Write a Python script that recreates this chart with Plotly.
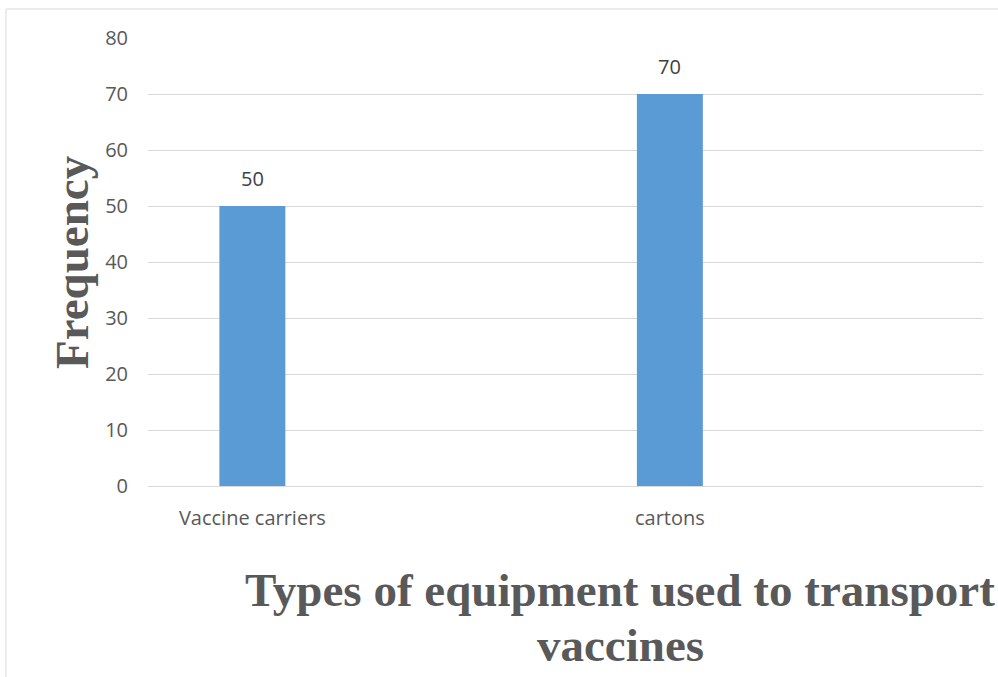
import plotly.graph_objects as go

# ---- data ----
categories = ["Vaccine carriers", "cartons"]
values = [50, 70]
slots = [0, 2]            # category slot positions on a 4-slot axis
y_ticks = [0, 10, 20, 30, 40, 50, 60, 70, 80]
y_title = "Frequency"
x_title_lines = ["Types of equipment used to transport", "vaccines"]

W, H = 998, 677
L, R, T, B = 148, 15, 38, 191
pw, ph = W - L - R, H - T - B

def px_x(px):
    return (px - L) / pw

def px_y(py):
    return (H - B - py) / ph

txt = "#595959"
fig = go.Figure()
fig.add_trace(go.Bar(
    x=slots, y=values, width=0.316,
    marker=dict(color="#5B9BD5", line=dict(width=0)),
    hoverinfo="skip",
))

for s, v in zip(slots, values):
    fig.add_annotation(x=s, y=v, text=str(v), showarrow=False,
                       yanchor="bottom", yshift=12,
                       font=dict(family="Open Sans", size=20, color="#404040"))

fig.add_annotation(xref="paper", yref="paper", x=px_x(72), y=px_y(262),
                   text=f"<b>{y_title}</b>", textangle=-90, showarrow=False,
                   xanchor="center", yanchor="middle",
                   font=dict(family="Liberation Serif", size=47, color=txt))
for line, py in zip(x_title_lines, [590, 645]):
    fig.add_annotation(xref="paper", yref="paper", x=px_x(620), y=px_y(py),
                       text=f"<b>{line}</b>", showarrow=False,
                       xanchor="center", yanchor="middle",
                       font=dict(family="Liberation Serif", size=47, color=txt))

# chart area border
fig.add_shape(type="rect", xref="paper", yref="paper",
              x0=px_x(6), x1=px_x(1010), y0=px_y(700), y1=px_y(9),
              line=dict(color="#D9D9D9", width=1), layer="below")

fig.update_layout(
    width=W, height=H,
    margin=dict(l=L, r=R, t=T, b=B),
    plot_bgcolor="white", paper_bgcolor="white",
    showlegend=False,
    xaxis=dict(range=[-0.5, 3.5], tickvals=slots, ticktext=categories,
               showgrid=False, zeroline=False, showline=False, ticks="",
               ticklabelstandoff=18, fixedrange=True,
               tickfont=dict(family="Open Sans", size=20, color=txt)),
    yaxis=dict(range=[0, 80], tickvals=y_ticks, showgrid=True,
               gridcolor="#D9D9D9", gridwidth=1,
               zeroline=True, zerolinecolor="#D9D9D9", zerolinewidth=1,
               showline=False, ticks="", ticklabelstandoff=19,
               tickfont=dict(family="Open Sans", size=20, color=txt)),
)

fig.write_html("out.html")
